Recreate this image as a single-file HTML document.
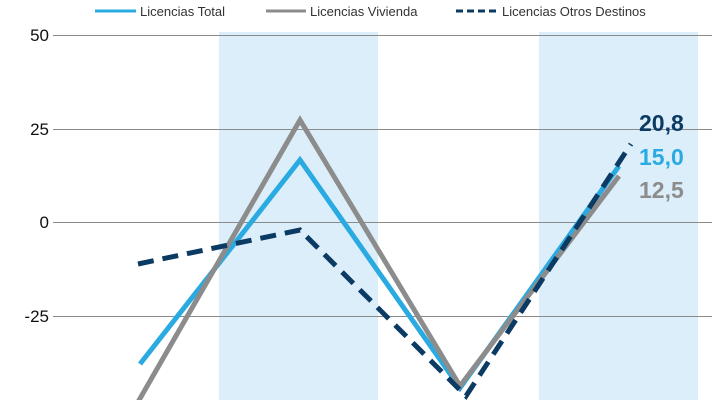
<!DOCTYPE html>
<html><head><meta charset="utf-8"><style>
body{margin:0;background:#fff}
svg{display:block;font-family:"Liberation Sans",sans-serif}
</style></head><body>
<svg width="720" height="400" viewBox="0 0 720 400">
<rect x="219" y="32" width="159" height="368" fill="#ddeefb"/>
<rect x="539" y="32" width="159" height="368" fill="#ddeefb"/>
<g stroke="#8a8a8a" stroke-width="1">
<line x1="53" y1="35.5" x2="712" y2="35.5"/>
<line x1="53" y1="129.5" x2="712" y2="129.5"/>
<line x1="53" y1="222.5" x2="712" y2="222.5"/>
<line x1="53" y1="316.5" x2="712" y2="316.5"/>
</g>
<g font-size="17" fill="#111" text-anchor="end">
<text x="49" y="41">50</text>
<text x="49" y="135">25</text>
<text x="49" y="228">0</text>
<text x="49" y="322">-25</text>
</g>
<g fill="none" stroke-width="5" stroke-linejoin="miter">
<polyline points="140,364 300,160 460,388 619,166" stroke="#29abe2"/>
<polyline points="138,402 300,120 460,386 619,176" stroke="#8c8c8c"/>
<polyline points="138,264 300,230 466,396 631,144" stroke="#0b3a62" stroke-dasharray="16,9"/>
</g>
<g font-size="23" font-weight="bold">
<text x="639" y="131" fill="#0b3a62">20,8</text>
<text x="639" y="165" fill="#29abe2">15,0</text>
<text x="639" y="198" fill="#8c8c8c">12,5</text>
</g>
<g stroke-width="3">
<line x1="95" y1="11" x2="136" y2="11" stroke="#29abe2"/>
<line x1="266" y1="11" x2="306" y2="11" stroke="#8c8c8c"/>
<line x1="456" y1="11" x2="500" y2="11" stroke="#0b3a62" stroke-dasharray="7,4"/>
</g>
<g font-size="13" fill="#333">
<text x="140" y="16">Licencias Total</text>
<text x="310" y="16">Licencias Vivienda</text>
<text x="502" y="16">Licencias Otros Destinos</text>
</g>
</svg>
</body></html>
